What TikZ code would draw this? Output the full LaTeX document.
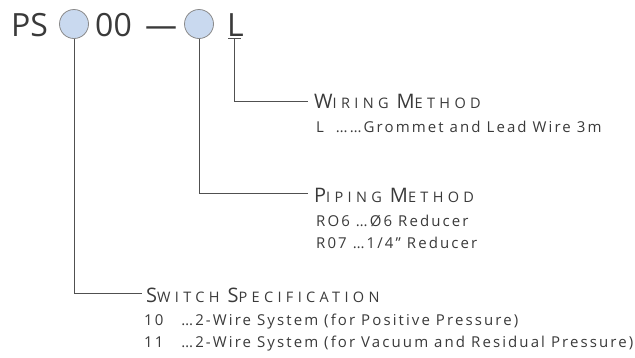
\documentclass[tikz,border=0pt]{standalone}
\usepackage{fontspec}
\setmainfont{Open Sans}
\newfontfamily\descfont[LetterSpace=14]{Open Sans}
\newfontfamily\headfont[LetterSpace=30]{Open Sans}
\definecolor{txt}{HTML}{3A3A3A}
\definecolor{ln}{HTML}{505050}
\definecolor{cfill}{HTML}{C9D9EF}
\definecolor{cdraw}{HTML}{8A8A8A}
\newcommand{\hd}[2]{{\fontsize{20}{20}\selectfont #1}{\fontsize{14.5}{14.5}\selectfont #2}}
\tikzset{
  title/.style={inner sep=0pt, anchor=base west, text=txt, font=\fontsize{32}{32}\selectfont},
  circ/.style={circle, draw=cdraw, fill=cfill, line width=0.8pt, minimum size=29pt, inner sep=0pt},
  head/.style={inner sep=0pt, anchor=base west, text=txt, font=\headfont},
  desc/.style={inner sep=0pt, anchor=base west, text=txt, font=\descfont\fontsize{15}{15}\selectfont},
  conn/.style={draw=ln, line width=0.9pt}
}
\begin{document}
\begin{tikzpicture}[x=1pt,y=-1pt]
\useasboundingbox (0,0) rectangle (635,357);
% title
\node[title] (ps) at (11,36) {PS};
\node[circ] (c1) at (74,24) {};
\node[title] (zz) at (95,36) {00};
\node[title] (dash) at (145,36) {—};
\node[circ] (c2) at (199,24) {};
\node[title] (ll) at (227,36) {L};
\draw[conn] ([xshift=1pt,yshift=-2pt]ll.base west) -- ([xshift=14pt,yshift=-2pt]ll.base west);
\coordinate (lu) at ([xshift=7pt,yshift=-2pt]ll.base west);
% wiring
\coordinate (wl) at (308,101);
\node[head] (wh) at (314,108) {\hd{W}{IRING}\hspace{8pt}\hd{M}{ETHOD}};
\node[desc] (wd) at (316,132) {L~~……Grommet and Lead Wire 3m};
\draw[conn] (lu) |- (wl);
% piping
\coordinate (pl) at (308,193);
\node[head] (ph) at (314,202) {\hd{P}{IPING}\hspace{8pt}\hd{M}{ETHOD}};
\node[desc] (pd1) at (316,226) {RO6 …Ø6 Reducer};
\node[desc] (pd2) at (316,248) {R07 …1/4” Reducer};
\draw[conn] (c2.south) |- (pl);
% switch
\coordinate (sl) at (142,293);
\node[head] (sh) at (146,302) {\hd{S}{WITCH}\hspace{8pt}\hd{S}{PECIFICATION}};
\node[desc] (sd1) at (144,325) {10~~ …2-Wire System (for Positive Pressure)};
\node[desc] (sd2) at (144,347) {11~~ …2-Wire System (for Vacuum and Residual Pressure)};
\draw[conn] (c1.south) |- (sl);
\end{tikzpicture}
\end{document}
